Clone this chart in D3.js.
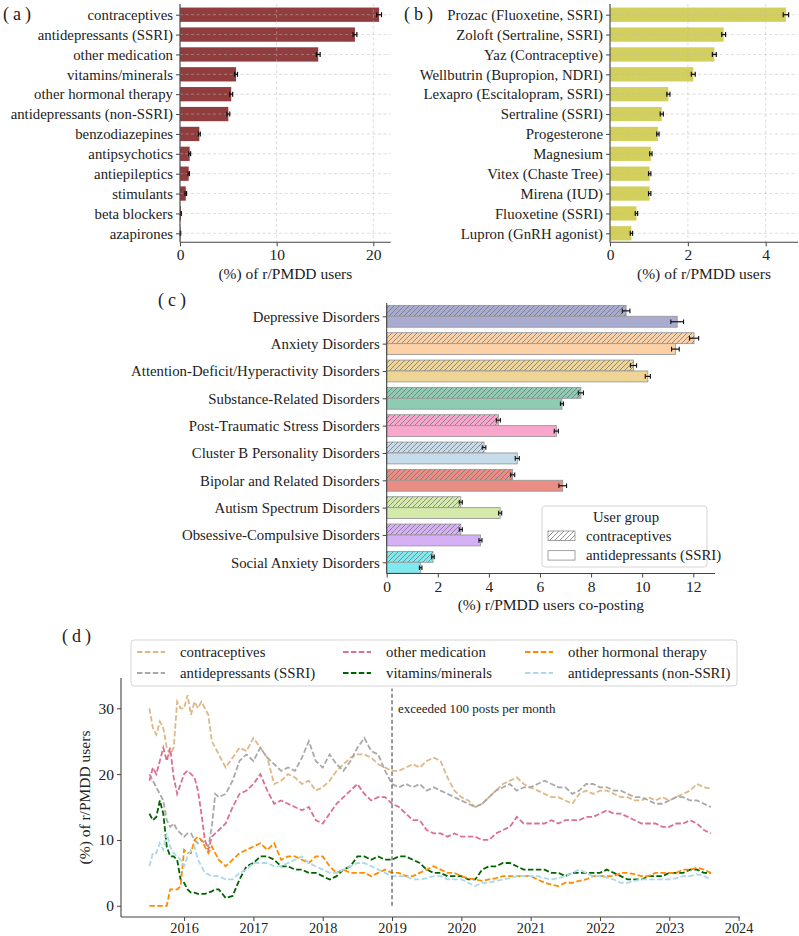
<!DOCTYPE html>
<html>
<head>
<meta charset="utf-8">
<script src="https://cdn.jsdelivr.net/npm/d3@7"></script>
<style>
body { margin: 0; background: #fff; }
svg text { font-family: "Liberation Serif", "DejaVu Serif", serif; fill: #222; }
</style>
</head>
<body>
<script>
// panel a: medication categories
var catsA = ["contraceptives", "antidepressants (SSRI)", "other medication", "vitamins/minerals",
  "other hormonal therapy", "antidepressants (non-SSRI)", "benzodiazepines", "antipsychotics",
  "antiepileptics", "stimulants", "beta blockers", "azapirones"];
var valsA = [20.6, 18.1, 14.3, 5.8, 5.3, 5.0, 2.0, 1.0, 0.9, 0.6, 0.1, 0.05];
var errA = [0.25, 0.2, 0.2, 0.15, 0.15, 0.15, 0.1, 0.1, 0.08, 0.08, 0.03, 0.02];

// panel b: individual medications
var catsB = ["Prozac (Fluoxetine, SSRI)", "Zoloft (Sertraline, SSRI)", "Yaz (Contraceptive)",
  "Wellbutrin (Bupropion, NDRI)", "Lexapro (Escitalopram, SSRI)", "Sertraline (SSRI)", "Progesterone",
  "Magnesium", "Vitex (Chaste Tree)", "Mirena (IUD)", "Fluoxetine (SSRI)", "Lupron (GnRH agonist)"];
var valsB = [4.52, 2.92, 2.68, 2.14, 1.5, 1.33, 1.23, 1.05, 1.02, 1.02, 0.68, 0.55];
var errB = [0.07, 0.05, 0.05, 0.05, 0.04, 0.04, 0.03, 0.03, 0.03, 0.03, 0.03, 0.03];

// panel c: co-posting disorders
var catsC = ["Depressive Disorders", "Anxiety Disorders", "Attention-Deficit/Hyperactivity Disorders",
  "Substance-Related Disorders", "Post-Traumatic Stress Disorders", "Cluster B Personality Disorders",
  "Bipolar and Related Disorders", "Autism Spectrum Disorders", "Obsessive-Compulsive Disorders",
  "Social Anxiety Disorders"];
var colorsC = ["#a9acd0", "#fdd1a6", "#efd595", "#8ecbb3", "#f8a6cb", "#c6dcea", "#ea8d85",
  "#d4eaab", "#d6b0f4", "#80e9f0"];
var contraC = [9.37, 12.03, 9.66, 7.6, 4.37, 3.81, 4.93, 2.9, 2.9, 1.81];
var contraErr = [0.15, 0.18, 0.12, 0.1, 0.08, 0.07, 0.08, 0.06, 0.06, 0.05];
var ssriC = [11.37, 11.3, 10.22, 6.86, 6.64, 5.11, 6.89, 4.44, 3.67, 1.33];
var ssriErr = [0.25, 0.15, 0.1, 0.06, 0.08, 0.08, 0.15, 0.06, 0.06, 0.05];
var groupsC = ["contraceptives", "antidepressants (SSRI)"];

// panel d: time series (decimal years)
var timeD = [2015.5, 2015.55, 2015.6, 2015.65, 2015.7, 2015.75, 2015.8, 2015.85, 2015.9, 2015.95,
  2016.0, 2016.05, 2016.1, 2016.15, 2016.2, 2016.25, 2016.3, 2016.35, 2016.4, 2016.45, 2016.5,
  2016.6, 2016.7, 2016.8, 2016.9,
  2017.0, 2017.1, 2017.2, 2017.3, 2017.4, 2017.5, 2017.6, 2017.7, 2017.8, 2017.9,
  2018.0, 2018.1, 2018.2, 2018.3, 2018.4, 2018.5, 2018.6, 2018.7, 2018.8, 2018.9,
  2019.0, 2019.1, 2019.2, 2019.3, 2019.4, 2019.5, 2019.6, 2019.7, 2019.8, 2019.9,
  2020.0, 2020.1, 2020.2, 2020.3, 2020.4, 2020.5, 2020.6, 2020.7, 2020.8, 2020.9,
  2021.0, 2021.1, 2021.2, 2021.3, 2021.4, 2021.5, 2021.6, 2021.7, 2021.8, 2021.9,
  2022.0, 2022.1, 2022.2, 2022.3, 2022.4, 2022.5, 2022.6, 2022.7, 2022.8, 2022.9,
  2023.0, 2023.1, 2023.2, 2023.3, 2023.4, 2023.5, 2023.6];
var contraD = [30, 27, 26, 28, 27, 24, 23, 24, 31, 30, 30, 32, 29, 31, 30, 31, 30, 29, 25, 24, 23,
  21, 22.5, 24, 23.5,
  25.5, 24, 22.5, 18.5, 19, 20, 19.5, 18.5, 19, 17.5,
  18, 19, 20.5, 21.5, 22.5, 23, 23, 22.5, 21.5, 21,
  20.5, 20.5, 21, 21.5, 21, 22, 22.5, 22, 19.5, 17.5,
  16.5, 16, 15, 15.5, 16.5, 17.5, 18.5, 19, 19.5, 18.5,
  18, 17.5, 17, 16.5, 16.5, 16, 15.5, 17, 17.5, 17,
  17.5, 17.5, 17, 16.5, 16.5, 16, 16, 16.5, 16, 16.5,
  16, 16.5, 17, 17.5, 18.5, 18, 17.8];
var ssriD = [20, 19, 18, 17, 16, 13, 12, 12.5, 11.5, 11, 10.5, 11, 11, 10, 9.5, 10, 9.5, 9, 12, 17, 16.5,
  17, 19, 22, 23,
  22, 24, 22.5, 21.5, 20.5, 21, 20.5, 22.5, 25, 22,
  21, 23, 21.5, 20.5, 22, 24, 25.5, 23.5, 23, 20.5,
  18.5, 18, 18.5, 18, 18.5, 17.5, 18, 17.5, 17, 16.5,
  16, 15.5, 15, 15.5, 16.5, 17.5, 18, 18.5, 17.5, 18,
  18, 18.5, 19, 18.5, 18, 18, 17, 17.5, 18.5, 18.5,
  18, 18, 17.5, 17.5, 17, 16.5, 16.5, 16, 15.5, 15.5,
  16, 16.5, 16.5, 16, 16, 15.5, 15];
var otherMedD = [19, 21, 20, 22, 24, 22, 24, 19.5, 17, 18.5, 20, 20.5, 20, 19.5, 17.5, 14, 10, 8.5, 10.5, 11, 11.5,
  12.5, 15, 17, 17.5,
  18.5, 20, 17.5, 15.5, 16, 15.5, 15, 14.5, 15, 13,
  12.5, 14, 15.5, 16.5, 17.5, 18.5, 17, 16, 16.5, 16.5,
  15.5, 15, 14, 13, 13, 11.5, 11, 11, 10.5, 11,
  10.5, 10.5, 10.5, 10, 10, 11, 11.5, 12, 13.5, 12.5,
  12.5, 12.5, 12.5, 13, 12.5, 13, 13, 13, 13.5, 13.5,
  14, 14.5, 14, 14, 13.5, 13, 12.5, 12.5, 12.5, 12,
  12, 12.5, 12.5, 13, 12.5, 11.5, 11];
var vitD = [14, 13, 13.5, 16, 14, 9, 7.5, 7.5, 7, 4, 3.5, 2.5, 2, 2, 1.8, 1.8, 1.8, 2, 2.2, 2.5, 2.5,
  1.2, 1.5, 4, 6,
  6.5, 7.5, 7.5, 7, 6, 6, 5.5, 5.5, 5, 5,
  4.5, 4, 4.5, 5.5, 6, 7.5, 7.5, 7, 7.5, 7,
  7, 7.5, 7.5, 7, 6.5, 5.5, 5, 5, 4.5, 4.5,
  4.5, 4, 4, 5.5, 6, 6, 6.5, 6.5, 6, 5.5,
  5.5, 5.5, 5.5, 5, 5, 4.5, 5, 5, 5, 5,
  5, 5.5, 5, 4.5, 4, 4, 4, 4.5, 4.5, 4.5,
  5, 5, 5, 5.5, 5.5, 5, 5];
var hormD = [0, 0, 0, 0, 0, 0, 2.5, 2.5, 2.5, 3, 8.5, 8, 8, 10, 10.5, 10, 9, 8, 9, 8, 7,
  6, 7, 8, 8.5,
  9, 9.5, 8.5, 9.5, 7, 7.5, 7.5, 7, 6.5, 7.5,
  7.5, 6, 5, 5.5, 5, 5, 5, 4.5, 5, 5.5,
  5, 5, 4.5, 4.5, 5, 5.5, 6, 5.5, 5, 5,
  4.5, 4.2, 4, 3.8, 4, 4.2, 4.5, 4.5, 4.5, 4.5,
  4.5, 4, 3.5, 3.2, 3, 3.5, 3.5, 3.8, 4, 4.5,
  4.5, 4.5, 4.5, 5, 5, 4.8, 4.5, 4.5, 5, 5,
  5, 5, 5.5, 5.5, 5.8, 5.5, 5];
var nonSsriD = [6, 8, 8, 9.5, 8.5, 11, 9, 8, 7.5, 7, 6, 7.5, 8.5, 9, 7, 6, 5, 4.8, 4.5, 4.5, 4.5,
  4, 4, 5, 5.5,
  6.5, 6.5, 6.5, 6, 6, 6.5, 7, 7.5, 6.5, 6,
  5.5, 5, 5, 5.5, 6, 6.5, 6.5, 6, 5.5, 5,
  4.5, 4.5, 4.5, 4, 4, 4.2, 4.5, 4.5, 4, 4,
  4, 3.5, 3, 3.5, 3.5, 3.8, 4, 4.2, 4.5, 4.5,
  4.5, 4.5, 4.2, 4, 4.2, 4.5, 5, 5.5, 5, 4.5,
  4.5, 4.3, 4, 3.5, 3.5, 3.8, 4, 4, 4, 4,
  4, 4.2, 4.5, 4.5, 4.8, 4.5, 4];
var seriesD = [
  {name: "contraceptives", color: "#deb887", values: contraD},
  {name: "antidepressants (SSRI)", color: "#a9a9a9", values: ssriD},
  {name: "other medication", color: "#db7093", values: otherMedD},
  {name: "vitamins/minerals", color: "#006400", values: vitD},
  {name: "other hormonal therapy", color: "#ff8c00", values: hormD},
  {name: "antidepressants (non-SSRI)", color: "#add8e6", values: nonSsriD}
];
var legendOrderD = [0, 2, 4, 1, 3, 5];

var svg = d3.select("body").append("svg")
  .attr("width", 799)
  .attr("height", 936);

var FS = 14.8;
var FONT = "Liberation Serif, DejaVu Serif, serif";
var axisColor = "#444";

function styleAxis(g, size) {
  g.attr("font-family", null).attr("font-size", null);
  g.selectAll(".domain").attr("stroke", axisColor).attr("stroke-width", 1.1);
  g.selectAll(".tick line").attr("stroke", axisColor);
  g.selectAll(".tick text").style("font-family", FONT).style("font-size", (size || FS) + "px").attr("fill", "#222");
}

function panelLabel(txt, x, y) {
  svg.append("text").attr("x", x).attr("y", y)
    .style("font-size", "18px")
    .style("letter-spacing", "4px")
    .text(txt);
}

// horizontal bar panel (a and b)
function barPanel(cats, vals, errs, color, left, right, xMax, ticks, xlabel) {
  var top = 4, bottom = 242.3;
  var x = d3.scaleLinear().domain([0, xMax]).range([left, right]);
  var y = d3.scalePoint().domain(cats).range([14.7, 233.3]);
  var h = y.step() * 0.72;
  var g = svg.append("g");

  g.selectAll("rect.bar").data(cats).enter().append("rect")
    .attr("x", x(0))
    .attr("y", d => y(d) - h / 2)
    .attr("width", (d, i) => x(vals[i]) - x(0))
    .attr("height", h)
    .attr("fill", color);

  // grid on top of bars, as matplotlib does
  g.selectAll("line.gx").data(ticks).enter().append("line")
    .attr("x1", d => x(d)).attr("x2", d => x(d))
    .attr("y1", top).attr("y2", bottom)
    .attr("stroke", "#bbb").attr("stroke-width", 0.7).attr("stroke-dasharray", "3,2.5").attr("opacity", 0.7);
  g.selectAll("line.gy").data(cats).enter().append("line")
    .attr("x1", left).attr("x2", right)
    .attr("y1", d => y(d)).attr("y2", d => y(d))
    .attr("stroke", "#bbb").attr("stroke-width", 0.7).attr("stroke-dasharray", "3,2.5").attr("opacity", 0.7);

  // error bars
  var eb = g.selectAll("g.err").data(cats).enter().append("g");
  eb.append("line")
    .attr("x1", (d, i) => x(vals[i] - errs[i])).attr("x2", (d, i) => x(vals[i] + errs[i]))
    .attr("y1", d => y(d)).attr("y2", d => y(d))
    .attr("stroke", "#111").attr("stroke-width", 1.3);
  [-1, 1].forEach(function (s) {
    eb.append("line")
      .attr("x1", (d, i) => x(vals[i] + s * errs[i])).attr("x2", (d, i) => x(vals[i] + s * errs[i]))
      .attr("y1", d => y(d) - 2.5).attr("y2", d => y(d) + 2.5)
      .attr("stroke", "#111").attr("stroke-width", 1.2);
  });

  var ax = g.append("g").attr("transform", "translate(0," + bottom + ")")
    .call(d3.axisBottom(x).tickValues(ticks).tickFormat(d3.format("d"))
      .tickSize(4).tickPadding(3).tickSizeOuter(0));
  ax.select(".domain").attr("d", "M" + left + ",0H" + right);
  styleAxis(ax, 15.5);

  var ay = g.append("g").attr("transform", "translate(" + left + ",0)")
    .call(d3.axisLeft(y).tickSize(4).tickPadding(3).tickSizeOuter(0));
  ay.select(".domain").attr("d", "M0," + top + "V" + bottom);
  styleAxis(ay);

  g.append("text").attr("x", (left + right) / 2).attr("y", 279)
    .attr("text-anchor", "middle").style("font-size", "15.5px")
    .text(xlabel);
}

barPanel(catsA, valsA, errA, "#923d3d", 180, 390.7, 21.8, [0, 10, 20], "(%) of r/PMDD users");
barPanel(catsB, valsB, errB, "#d3cf5c", 610, 798, 4.83, [0, 2, 4], "(%) of r/PMDD users");
panelLabel("(a)", 3, 20);
panelLabel("(b)", 404, 20);

// panel c: grouped bars with hatch for contraceptives
var defs = svg.append("defs");
defs.append("pattern").attr("id", "hatch")
  .attr("patternUnits", "userSpaceOnUse").attr("width", 5).attr("height", 5)
  .append("path").attr("d", "M-1,1 l2,-2 M0,5 l5,-5 M4,6 l2,-2")
  .attr("stroke", "#777").attr("stroke-width", 0.8);

(function () {
  var left = 386.7, right = 715, top = 303, bottom = 573.5;
  var x = d3.scaleLinear().domain([0, 12.85]).range([left, right]);
  var y = d3.scalePoint().domain(catsC).range([316.3, 562.3]);
  var bh = 10.9;
  var g = svg.append("g");

  var rows = g.selectAll("g.row").data(catsC).enter().append("g");
  // contraceptives (upper, hatched)
  rows.append("rect")
    .attr("x", x(0)).attr("y", d => y(d) - bh)
    .attr("width", (d, i) => x(contraC[i]) - x(0)).attr("height", bh)
    .attr("fill", (d, i) => colorsC[i]).attr("stroke", "#999").attr("stroke-width", 0.9);
  rows.append("rect")
    .attr("x", x(0)).attr("y", d => y(d) - bh)
    .attr("width", (d, i) => x(contraC[i]) - x(0)).attr("height", bh)
    .attr("fill", "url(#hatch)");
  // SSRI (lower, plain)
  rows.append("rect")
    .attr("x", x(0)).attr("y", d => y(d))
    .attr("width", (d, i) => x(ssriC[i]) - x(0)).attr("height", bh)
    .attr("fill", (d, i) => colorsC[i]).attr("stroke", "#999").attr("stroke-width", 0.9);

  function errBars(vals, errs, off) {
    var e = g.selectAll(null).data(catsC).enter().append("g");
    e.append("line")
      .attr("x1", (d, i) => x(vals[i] - errs[i])).attr("x2", (d, i) => x(vals[i] + errs[i]))
      .attr("y1", d => y(d) + off).attr("y2", d => y(d) + off)
      .attr("stroke", "#111").attr("stroke-width", 1.2);
    [-1, 1].forEach(function (s) {
      e.append("line")
        .attr("x1", (d, i) => x(vals[i] + s * errs[i])).attr("x2", (d, i) => x(vals[i] + s * errs[i]))
        .attr("y1", d => y(d) + off - 2.3).attr("y2", d => y(d) + off + 2.3)
        .attr("stroke", "#111").attr("stroke-width", 1.1);
    });
  }
  errBars(contraC, contraErr, -bh / 2);
  errBars(ssriC, ssriErr, bh / 2);

  var ax = g.append("g").attr("transform", "translate(0," + bottom + ")")
    .call(d3.axisBottom(x).tickValues([0, 2, 4, 6, 8, 10, 12]).tickSize(4).tickPadding(3).tickSizeOuter(0));
  ax.select(".domain").attr("d", "M" + left + ",0H" + right);
  styleAxis(ax, 15.5);
  var ay = g.append("g").attr("transform", "translate(" + left + ",0)")
    .call(d3.axisLeft(y).tickSize(4).tickPadding(3).tickSizeOuter(0));
  ay.select(".domain").attr("d", "M0," + top + "V" + bottom);
  styleAxis(ay);

  g.append("text").attr("x", (left + right) / 2).attr("y", 610)
    .attr("text-anchor", "middle").style("font-size", "15.5px")
    .text("(%) r/PMDD users co-posting");

  // legend
  var lg = g.append("g");
  lg.append("rect").attr("x", 542).attr("y", 506).attr("width", 165).attr("height", 61)
    .attr("rx", 3).attr("fill", "#fff").attr("fill-opacity", 0.85).attr("stroke", "#d5d5d5");
  lg.append("text").attr("x", 626).attr("y", 522).attr("text-anchor", "middle")
    .style("font-size", FS + "px").text("User group");
  groupsC.forEach(function (name, i) {
    var yy = 531 + i * 19.6;
    lg.append("rect").attr("x", 548).attr("y", yy).attr("width", 27).attr("height", 9.5)
      .attr("fill", "#fff").attr("stroke", "#999").attr("stroke-width", 0.9);
    if (i === 0) {
      lg.append("rect").attr("x", 548).attr("y", yy).attr("width", 27).attr("height", 9.5)
        .attr("fill", "url(#hatch)");
    }
    lg.append("text").attr("x", 586).attr("y", yy + 9.5).style("font-size", FS + "px").text(name);
  });
})();
panelLabel("(c)", 158, 306);

// panel d: time series
(function () {
  var left = 121, right = 740, top = 678, bottom = 917;
  var x = d3.scaleLinear().domain([2015.09, 2024.02]).range([left, right]);
  var y = d3.scaleLinear().domain([-1.7, 34.6]).range([bottom, top]);
  var g = svg.append("g");

  var line = d3.line().x((d, i) => x(timeD[i])).y(d => y(d));
  g.selectAll("path.series").data(seriesD).enter().append("path")
    .attr("d", d => line(d.values))
    .attr("fill", "none")
    .attr("stroke", d => d.color)
    .attr("stroke-width", 1.8)
    .attr("stroke-dasharray", "5.5,2.4");

  // threshold marker
  g.append("line").attr("x1", x(2019)).attr("x2", x(2019)).attr("y1", y(0)).attr("y2", y(33))
    .attr("stroke", "#333").attr("stroke-width", 1).attr("stroke-dasharray", "4,2.5");
  g.append("text").attr("x", x(2019) + 6).attr("y", y(29.3))
    .style("font-size", "13px").text("exceeded 100 posts per month");

  var ax = g.append("g").attr("transform", "translate(0," + bottom + ")")
    .call(d3.axisBottom(x).tickValues(d3.range(2016, 2025)).tickFormat(d3.format("d"))
      .tickSize(4).tickPadding(2).tickSizeOuter(0));
  ax.select(".domain").attr("d", "M" + left + ",0H" + right);
  styleAxis(ax, 14.3);
  var ay = g.append("g").attr("transform", "translate(" + left + ",0)")
    .call(d3.axisLeft(y).tickValues([0, 10, 20, 30]).tickSize(4).tickPadding(3).tickSizeOuter(0));
  ay.select(".domain").attr("d", "M0," + top + "V" + bottom);
  styleAxis(ay, 15.5);

  g.append("text")
    .attr("transform", "translate(90," + ((top + bottom) / 2) + ") rotate(-90)")
    .attr("text-anchor", "middle").style("font-size", "15.5px")
    .text("(%) of r/PMDD users");

  // legend
  var lg = g.append("g");
  lg.append("rect").attr("x", 131).attr("y", 640).attr("width", 606).attr("height", 46)
    .attr("rx", 3).attr("fill", "#fff").attr("fill-opacity", 0.85).attr("stroke", "#d5d5d5");
  var colX = [137, 343, 525];
  legendOrderD.forEach(function (si, k) {
    var s = seriesD[si];
    var cx = colX[k % 3], cy = 652 + Math.floor(k / 3) * 21;
    lg.append("line").attr("x1", cx).attr("x2", cx + 28).attr("y1", cy).attr("y2", cy)
      .attr("stroke", s.color).attr("stroke-width", 1.8).attr("stroke-dasharray", "5.5,2.4");
    lg.append("text").attr("x", cx + 43).attr("y", cy + 5).style("font-size", FS + "px").text(s.name);
  });
})();
panelLabel("(d)", 62, 642);

svg.selectAll("text").style("font-family", FONT);
</script>
</body>
</html>
